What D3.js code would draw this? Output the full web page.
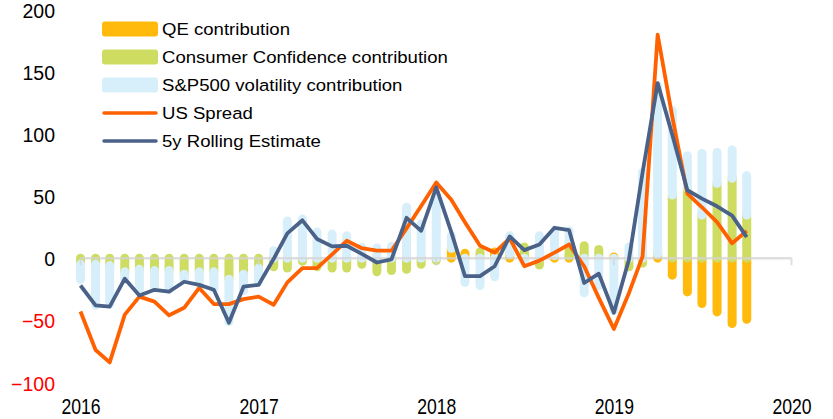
<!DOCTYPE html>
<html>
<head>
<meta charset="utf-8">
<script src="https://cdn.jsdelivr.net/npm/d3@7"></script>
<style>
  html, body { margin: 0; padding: 0; background: #fff; }
  svg { display: block; font-family: "Liberation Sans", Arial, sans-serif; }
</style>
</head>
<body>
<svg id="chart" width="833" height="419"></svg>
<script>
// Monthly observations, Jan 2016 – Oct 2019
const months = d3.timeMonth.range(new Date(2016, 0, 1), new Date(2019, 10, 1));

// Contributions (bp)
const qeContribution = [
  0, 0, 0, 0, 0, 0, 0, 0, 0, 0, 0, 0,
  0, 0, 0, 0, 0, 0, 0, 0, 0, 0, 0, 0,
  0, 8, 4, 0, 5, 3, 3, 0, 2, 2, 0, 0,
  1, 0, 0, 3, -13.7, -27.2, -36.5, -43.3, -52.7, -49.2
];
const confidenceContribution = [
  -5, -5, -6, -11, -9, -10, -10, -13, -11, -11, -17, -13,
  -8, -7, -8, -2.5, -7, -8, -8, -5, -11, -10, -9, -5,
  -2, 0, 0, 5, 0, 0, 6, -5.6, 0, 10, 10, 7,
  0, -7, -4, 0, 50.8, 56.2, 34.7, 60.2, 64.3, 34.7
];
const volatilityContribution = [
  -12, -33, -31, -6, -17, -13, -15, -4, -9, -13, -34, -13,
  -11, 6, 30, 31.5, 21, 19.4, 18, 8.7, 8.2, 9.5, 41, 27.6,
  51, 10, -19.5, -22, -15, 15, -3, 18, 20, 10, -28, -22,
  -42, 9, 69, 136, 68, 26.3, 49.7, 25, 22.8, 31.7
];

// Lines (bp)
const usSpread = [
  -43, -74, -84, -45.5, -31, -35, -46, -40, -24, -37, -37, -33,
  -31, -37.5, -19.5, -8, -8, 3, 14, 8, 6, 6, 24, 42,
  61, 47, 29, 10, 4.5, 16, -6.5, -2, 4.5, 11, -6.5, -32,
  -57, -28, 1.5, 180, 114, 52, 41, 29, 12, 22
];
const rollingEstimate = [
  -22, -38, -39, -16.5, -30, -25.5, -27, -19, -21.5, -25.5, -52, -23,
  -21.5, -0.5, 20, 30.5, 15.5, 9.5, 10, 3.5, -3.5, -1, 32.5, 22,
  57, 21, -14.5, -14.5, -6.5, 17.5, 6.5, 11, 24.5, 22.5, -20, -12.5,
  -44, -1, 69, 141, 99.5, 54.7, 48, 41.8, 34.3, 17
];

const yTicks = [200, 150, 100, 50, 0, -50, -100];
const xTickYears = [2016, 2017, 2018, 2019, 2020];

const legendItems = [
  { label: "QE contribution", type: "bar", color: "#FFBA0B" },
  { label: "Consumer Confidence contribution", type: "bar", color: "#CEDD62" },
  { label: "S&P500 volatility contribution", type: "bar", color: "#D6EFFA" },
  { label: "US Spread", type: "line", color: "#FF6000" },
  { label: "5y Rolling Estimate", type: "line", color: "#4A6188" }
];

const svg = d3.select("#chart");

const x = d3.scaleTime()
  .domain([new Date(2016, 0, 1), new Date(2020, 0, 1)])
  .range([80.5, 791.5]);

const y = d3.scaleLinear()
  .domain([-100, 200])
  .range([382.3, 9.9]);

// Stacked contribution bars, drawn as rounded strokes
const barSeries = [
  { values: qeContribution, color: legendItems[0].color },
  { values: confidenceContribution, color: legendItems[1].color },
  { values: volatilityContribution, color: legendItems[2].color }
];

const segments = [];
months.forEach((m, i) => {
  let pos = 0, neg = 0;
  barSeries.forEach((s, k) => {
    const v = s.values[i];
    if (!v) return;
    let a, b;
    if (v > 0) { a = pos; b = pos + v; pos = b; }
    else { a = neg; b = neg + v; neg = b; }
    segments.push({ date: m, from: a, to: b, color: s.color, order: k });
  });
});
segments.sort((p, q) => p.order - q.order);

svg.append("g").attr("class", "bars")
  .selectAll("line")
  .data(segments)
  .join("line")
  .attr("x1", d => x(d.date))
  .attr("x2", d => x(d.date))
  .attr("y1", d => y(d.from))
  .attr("y2", d => y(d.to))
  .attr("stroke", d => d.color)
  .attr("stroke-width", 9)
  .attr("stroke-linecap", "round");

// Zero baseline with year ticks
const base = svg.append("g").attr("class", "baseline").attr("opacity", 0.75);
base.append("line")
  .attr("x1", x(new Date(2016, 0, 1)))
  .attr("x2", x(new Date(2020, 0, 1)))
  .attr("y1", y(0)).attr("y2", y(0))
  .attr("stroke", "#d4d4d4").attr("stroke-width", 2.5);
base.selectAll("line.tick")
  .data(xTickYears)
  .join("line")
  .attr("class", "tick")
  .attr("x1", d => x(new Date(d, 0, 1)))
  .attr("x2", d => x(new Date(d, 0, 1)))
  .attr("y1", y(0)).attr("y2", y(0) + 7)
  .attr("stroke", "#d4d4d4").attr("stroke-width", 2);

// Lines
const lineGen = (vals) => d3.line()
  .x((d, i) => x(months[i]))
  .y(d => y(d))(vals);

svg.append("path")
  .attr("d", lineGen(usSpread))
  .attr("fill", "none")
  .attr("stroke", legendItems[3].color)
  .attr("stroke-width", 3.8)
  .attr("stroke-linejoin", "round");

svg.append("path")
  .attr("d", lineGen(rollingEstimate))
  .attr("fill", "none")
  .attr("stroke", legendItems[4].color)
  .attr("stroke-width", 3.8)
  .attr("stroke-linejoin", "round");

// Y axis labels
const yAxis = d3.axisLeft(y).tickValues(yTicks).tickSize(0).tickPadding(0)
  .tickFormat(d3.format("d"));
const gy = svg.append("g").attr("transform", "translate(55,1.5)").call(yAxis);
gy.select(".domain").remove();
gy.selectAll("text")
  .attr("font-size", 19.5)
  .attr("font-family", "'Liberation Sans', Arial, sans-serif")
  .attr("fill", d => d < 0 ? "#FF0000" : "#000");

// X axis labels
const xAxis = d3.axisBottom(x)
  .tickValues(xTickYears.map(yr => new Date(yr, 0, 1)))
  .tickSize(0).tickPadding(0)
  .tickFormat(d3.timeFormat("%Y"));
const gx = svg.append("g").attr("transform", "translate(0,398)").call(xAxis);
gx.select(".domain").remove();
gx.selectAll(".tick text")
  .attr("font-size", 22)
  .attr("font-family", "'Liberation Sans', Arial, sans-serif")
  .attr("fill", "#000")
  .attr("dy", "0.72em")
  .attr("transform", "scale(0.8,1)");

// Legend
const legend = svg.append("g").attr("class", "legend");
const rowY = (i) => 29 + i * 28;
legendItems.forEach((item, i) => {
  const g = legend.append("g").attr("transform", `translate(0,${rowY(i)})`);
  if (item.type === "bar") {
    g.append("rect")
      .attr("x", 102).attr("y", -7.5).attr("width", 56).attr("height", 15)
      .attr("rx", 3).attr("fill", item.color);
  } else {
    g.append("line")
      .attr("x1", 104).attr("x2", 156).attr("y1", 0).attr("y2", 0)
      .attr("stroke", item.color).attr("stroke-width", 3.5)
      .attr("stroke-linecap", "round");
  }
  g.append("text")
    .attr("transform", "translate(162,0) scale(1.08,1)")
    .attr("dy", "0.36em")
    .attr("font-size", 17.2)
    .attr("fill", "#000")
    .text(item.label);
});
</script>
</body>
</html>
